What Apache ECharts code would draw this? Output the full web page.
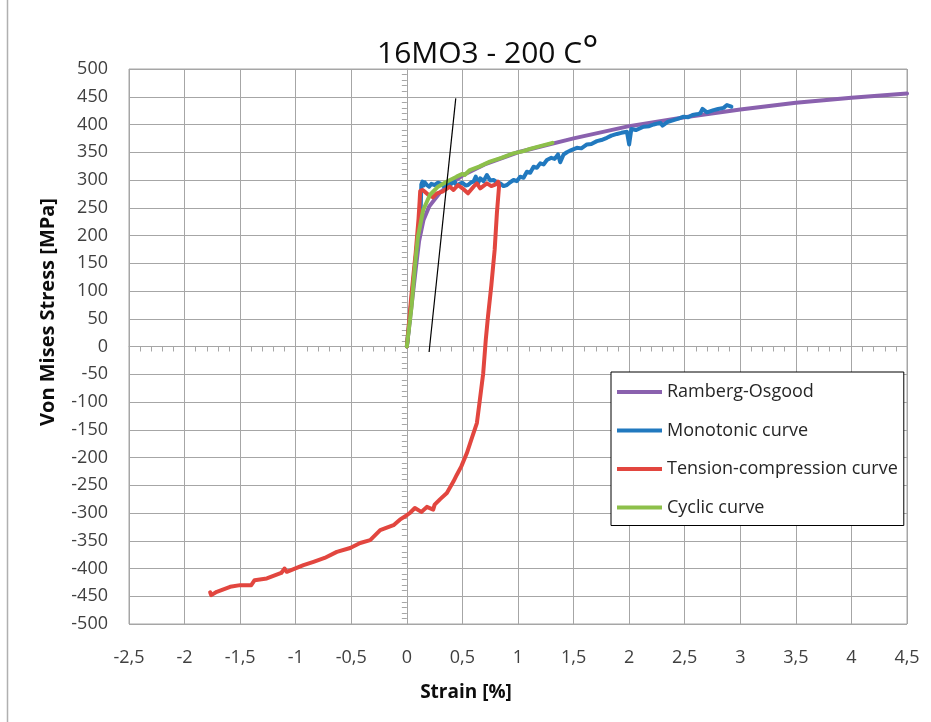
<!DOCTYPE html>
<html>
<head>
<meta charset="utf-8">
<script src="https://cdn.jsdelivr.net/npm/echarts@6/dist/echarts.min.js"></script>
<style>
  html, body { margin: 0; padding: 0; background: #fff; }
  #chart { width: 931px; height: 722px; }
</style>
</head>
<body>
<div id="chart"></div>
<script>
// Strain [%] vs von Mises stress [MPa], 16MO3 at 200 °C

const xTickLabels = ['-2,5', '-2', '-1,5', '-1', '-0,5', '0', '0,5', '1', '1,5', '2', '2,5', '3', '3,5', '4', '4,5'];
const yTickLabels = ['-500', '-450', '-400', '-350', '-300', '-250', '-200', '-150', '-100', '-50', '0',
                     '50', '100', '150', '200', '250', '300', '350', '400', '450', '500'];

const seriesNames = ['Ramberg-Osgood', 'Monotonic curve', 'Tension-compression curve', 'Cyclic curve'];

const rambergOsgood = [
  [0, 0], [0.04, 70], [0.08, 140], [0.11, 190], [0.15, 228], [0.2, 252], [0.3, 278], [0.4, 294],
  [0.5, 308], [0.7, 328], [1.0, 350], [1.5, 375], [2.0, 397], [2.5, 413], [3.0, 427],
  [3.5, 439], [4.0, 448], [4.5, 456]
];

const monotonic = [
  [0, 0], [0.06, 120], [0.1, 200], [0.125, 250], [0.13, 292], [0.14, 297], [0.15, 290], [0.16, 296],
  [0.18, 291], [0.2, 288], [0.22, 293], [0.25, 291], [0.28, 295], [0.3, 294], [0.33, 289],
  [0.35, 290], [0.38, 296], [0.4, 293], [0.43, 297], [0.45, 289], [0.48, 294], [0.5, 295],
  [0.53, 290], [0.55, 291], [0.58, 296], [0.6, 297], [0.62, 306], [0.64, 294], [0.66, 303],
  [0.69, 298], [0.72, 309], [0.75, 299], [0.78, 300], [0.81, 296], [0.84, 294], [0.87, 289],
  [0.9, 291], [0.93, 296], [0.96, 300], [0.99, 298], [1.02, 306], [1.05, 304], [1.08, 315],
  [1.11, 313], [1.14, 324], [1.17, 322], [1.2, 330], [1.23, 328], [1.26, 336], [1.3, 340],
  [1.33, 338], [1.36, 346], [1.38, 332], [1.41, 346], [1.44, 350], [1.48, 354], [1.53, 358],
  [1.57, 357], [1.62, 364], [1.66, 365], [1.71, 370], [1.75, 372], [1.8, 376], [1.84, 380],
  [1.89, 383], [1.93, 385], [1.98, 387], [2.0, 364], [2.02, 392], [2.06, 390], [2.13, 396],
  [2.18, 397], [2.22, 400], [2.28, 403], [2.3, 398], [2.35, 405], [2.4, 408], [2.45, 411],
  [2.49, 414], [2.53, 413], [2.57, 417], [2.62, 419], [2.64, 420], [2.66, 428], [2.7, 422],
  [2.76, 426], [2.8, 428], [2.85, 430], [2.88, 435], [2.92, 432]
];

const tensionCompression = [
  [0, 0], [0.04, 90], [0.08, 170], [0.105, 230], [0.115, 262], [0.12, 280], [0.14, 282],
  [0.162, 279], [0.2, 272], [0.234, 269], [0.27, 276], [0.32, 279], [0.387, 288], [0.42, 282],
  [0.46, 291], [0.5, 285], [0.55, 276], [0.6, 288], [0.63, 294], [0.66, 285], [0.72, 294],
  [0.76, 289], [0.8, 292], [0.82, 297], [0.83, 290], [0.81, 240], [0.79, 174], [0.76, 110],
  [0.73, 54], [0.71, 12], [0.687, -48], [0.657, -96], [0.63, -138], [0.58, -168], [0.54, -192],
  [0.49, -216], [0.45, -231], [0.42, -243], [0.36, -264], [0.3, -275], [0.25, -285],
  [0.237, -294], [0.18, -289], [0.13, -298], [0.072, -291], [0.027, -300], [0, -304],
  [-0.063, -312], [-0.078, -313], [-0.12, -322], [-0.24, -331], [-0.33, -349], [-0.42, -354],
  [-0.51, -363], [-0.63, -370], [-0.74, -381], [-0.84, -388], [-0.93, -394], [-1.08, -406],
  [-1.1, -400], [-1.13, -408], [-1.26, -418], [-1.37, -421], [-1.4, -430], [-1.5, -430],
  [-1.59, -433], [-1.71, -442], [-1.76, -448], [-1.77, -443]
];

const cyclic = [
  [0, 0], [0.042, 72], [0.072, 144], [0.1, 198], [0.147, 246], [0.207, 273], [0.28, 288],
  [0.357, 297], [0.447, 306], [0.5, 311], [0.52, 309], [0.567, 318], [0.65, 324], [0.747, 333],
  [0.85, 340], [0.957, 348], [1.05, 352], [1.107, 356], [1.2, 361], [1.31, 367]
];

// 0.2 % offset line (elastic slope)
const offsetLine = [[0.2, -10], [0.44, 447]];

const xMin = -2.5, xMax = 4.5, xStep = 0.5;
const yMin = -500, yMax = 500, yStep = 50;

const FONT = 'Open Sans';
const GRID_COLOR = '#a6a6a6';
const LABEL_COLOR = '#404040';

const chart = echarts.init(document.getElementById('chart'), null, { renderer: 'canvas' });

function lineSeries(name, data, color, z) {
  return {
    name: name,
    type: 'line',
    data: data,
    showSymbol: false,
    symbol: 'none',
    z: z,
    lineStyle: { color: color, width: 4, join: 'round', cap: 'round' },
    itemStyle: { color: color },
    emphasis: { disabled: true },
    xAxisIndex: 0,
    yAxisIndex: 0
  };
}

chart.setOption({
  animation: false,
  backgroundColor: '#ffffff',
  title: {
    text: '16MO3 - 200 C{deg|°}',
    left: 377,
    top: 33,
    padding: 0,
    textStyle: {
      fontFamily: FONT, fontSize: 30, fontWeight: 'normal', color: '#0d0d0d',
      rich: { deg: { fontFamily: FONT, fontSize: 38, color: '#0d0d0d', padding: [0, 0, 4, 0] } }
    }
  },
  grid: {
    left: 129, right: 24, top: 69, bottom: 98,
    show: true, borderColor: GRID_COLOR, borderWidth: 1, backgroundColor: 'transparent'
  },
  legend: {
    orient: 'vertical',
    left: 611,
    top: 372,
    padding: [10, 6, 8, 6],
    itemWidth: 45,
    itemHeight: 4,
    itemGap: 18.5,
    icon: 'rect',
    backgroundColor: '#ffffff',
    borderColor: '#000000',
    borderWidth: 1,
    selectedMode: false,
    data: seriesNames,
    textStyle: { fontFamily: FONT, fontSize: 18, color: '#262626', lineHeight: 20 }
  },
  xAxis: [
    {
      type: 'value', min: xMin, max: xMax, interval: xStep, position: 'bottom',
      axisLine: { show: false, onZero: false },
      axisTick: { show: false },
      splitLine: { show: true, lineStyle: { color: GRID_COLOR, width: 1 } },
      axisLabel: {
        margin: 25, fontFamily: FONT, fontSize: 18, color: LABEL_COLOR,
        formatter: v => xTickLabels[Math.round((v - xMin) / xStep)]
      }
    },
    {
      // axis line through y = 0 with its tick marks
      type: 'value', min: xMin, max: xMax, interval: xStep, position: 'bottom',
      axisLine: { show: true, onZero: true, onZeroAxisIndex: 0, lineStyle: { color: GRID_COLOR, width: 1 } },
      axisTick: { show: true, length: 5, lineStyle: { color: GRID_COLOR } },
      minorTick: { show: true, splitNumber: 5, length: 5, lineStyle: { color: GRID_COLOR } },
      splitLine: { show: false },
      axisLabel: { show: false }
    }
  ],
  yAxis: [
    {
      type: 'value', min: yMin, max: yMax, interval: yStep, position: 'left',
      axisLine: { show: false, onZero: false },
      axisTick: { show: false },
      splitLine: { show: true, lineStyle: { color: GRID_COLOR, width: 1 } },
      axisLabel: {
        margin: 21, fontFamily: FONT, fontSize: 18, color: LABEL_COLOR,
        formatter: v => yTickLabels[Math.round((v - yMin) / yStep)]
      }
    },
    {
      // axis line through x = 0 with its tick marks
      type: 'value', min: yMin, max: yMax, interval: yStep, position: 'left',
      axisLine: { show: true, onZero: true, onZeroAxisIndex: 0, lineStyle: { color: GRID_COLOR, width: 1 } },
      axisTick: { show: true, length: 5, lineStyle: { color: GRID_COLOR } },
      minorTick: { show: true, splitNumber: 5, length: 5, lineStyle: { color: GRID_COLOR } },
      splitLine: { show: false },
      axisLabel: { show: false }
    }
  ],
  series: [
    lineSeries(seriesNames[0], rambergOsgood, '#8a61ae', 3),
    lineSeries(seriesNames[1], monotonic, '#2179bf', 4),
    lineSeries(seriesNames[2], tensionCompression, '#e2463f', 5),
    lineSeries(seriesNames[3], cyclic, '#8dc04a', 6),
    {
      name: 'offset',
      type: 'line',
      data: offsetLine,
      showSymbol: false,
      symbol: 'none',
      z: 7,
      lineStyle: { color: '#000000', width: 1.2 },
      emphasis: { disabled: true },
      xAxisIndex: 0,
      yAxisIndex: 0
    }
  ],
  graphic: [
    {
      type: 'line',
      shape: { x1: 7.5, y1: 0, x2: 7.5, y2: 722 },
      style: { stroke: '#b0b0b0', lineWidth: 1.5 },
      silent: true
    },
    {
      type: 'text',
      x: 466, y: 693,
      style: {
        text: 'Strain [%]', fontFamily: FONT, fontSize: 19, fontWeight: 'bold',
        fill: '#0d0d0d', align: 'center', verticalAlign: 'middle'
      },
      silent: true
    },
    {
      type: 'text',
      x: 48, y: 312,
      rotation: Math.PI / 2,
      style: {
        text: 'Von Mises Stress [MPa]', fontFamily: FONT, fontSize: 20, fontWeight: 'bold',
        fill: '#0d0d0d', align: 'center', verticalAlign: 'middle'
      },
      silent: true
    }
  ]
});
</script>
</body>
</html>
